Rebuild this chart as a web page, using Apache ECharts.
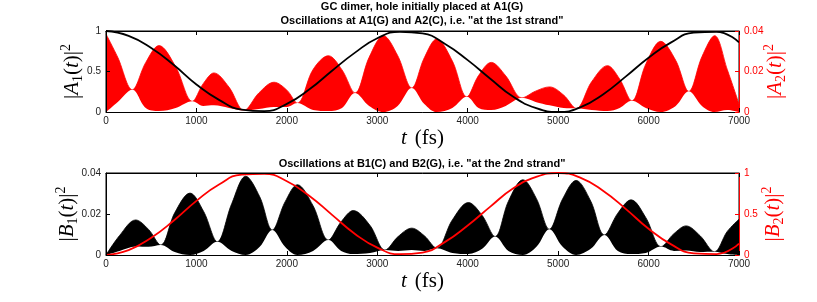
<!DOCTYPE html>
<html>
<head>
<meta charset="utf-8">
<script src="https://cdn.jsdelivr.net/npm/echarts@6/dist/echarts.min.js"></script>
<style>html,body{margin:0;padding:0;background:#fff}#c{width:817px;height:302px}</style>
</head>
<body>
<div id="c"></div>
<script>
// ---------- data ----------
const xTicks = [0, 1000, 2000, 3000, 4000, 5000, 6000, 7000];

// slow curves (sampled every 250 fs)
const tSlow = [0,250,500,750,1000,1250,1500,1750,2000,2250,2500,2750,3000,3250,3500,3750,4000,4250,4500,4750,5000,5250,5500,5750,6000,6250,6500,6750,7000];
const a1Slow = [1.00,0.94,0.79,0.58,0.34,0.15,0.03,0.01,0.10,0.28,0.51,0.73,0.91,0.99,0.97,0.84,0.64,0.41,0.19,0.05,0.00,0.06,0.22,0.44,0.67,0.86,0.98,0.99,0.86];
const b2Slow = [0.00,0.06,0.21,0.42,0.66,0.86,0.98,0.99,0.90,0.72,0.49,0.26,0.09,0.01,0.03,0.16,0.36,0.59,0.81,0.95,1.00,0.94,0.78,0.56,0.32,0.13,0.02,0.01,0.14];

// fast oscillation of |A2|^2 : upper and lower envelopes
const tTop = [0,130,291,440,586,770,955,1075,1194,1360,1526,1690,1858,2000,2116,2290,2459,2610,2754,2910,3067,3225,3381,3520,3657,3830,3990,4120,4260,4420,4600,4750,4905,5060,5200,5370,5545,5680,5815,5970,6135,6300,6445,6590,6730,6870,7000];
const a2Upper = [0.0385,0.027,0.011,0.0245,0.0328,0.0224,0.0053,0.014,0.0193,0.0123,0.0008,0.0094,0.0147,0.0108,0.0044,0.021,0.0278,0.0208,0.0094,0.027,0.0377,0.0279,0.0119,0.0268,0.036,0.0252,0.0075,0.018,0.0245,0.0179,0.007,0.0103,0.0124,0.0084,0.0018,0.0149,0.0229,0.0163,0.0055,0.0237,0.0349,0.0255,0.0102,0.0273,0.0377,0.021,0.004];
const a2Lower = [0,0.005,0.011,0.002,0.0005,0.002,0.0053,0.003,0.0033,0.002,0.0008,0.0015,0.0025,0.0025,0.0044,0.001,0.0005,0.002,0.0094,0.003,0,0.003,0.0119,0.004,0,0.002,0.0075,0.002,0.001,0.003,0.007,0.005,0.0033,0.002,0.0018,0.001,0.0005,0.002,0.0055,0.002,0,0.003,0.0102,0.003,0,0.001,0];

// fast oscillation of |B1|^2 : upper and lower envelopes
const tBot = [0,150,328,470,605,760,929,1080,1231,1390,1545,1700,1839,1980,2116,2290,2459,2600,2735,2920,3086,3230,3381,3520,3657,3830,4007,4160,4302,4450,4610,4760,4903,5050,5198,5360,5511,5660,5807,5970,6138,6280,6415,6570,6728,6870,7000];
const b1Upper = [0,0.0095,0.0171,0.0125,0.0049,0.0206,0.0302,0.0212,0.0065,0.025,0.0384,0.0284,0.0122,0.0259,0.0343,0.024,0.0073,0.0162,0.0217,0.0144,0.0024,0.009,0.0131,0.0094,0.0033,0.0171,0.0256,0.0193,0.009,0.0262,0.0367,0.0275,0.0126,0.0274,0.0364,0.0263,0.0098,0.0204,0.0269,0.0182,0.0041,0.0104,0.0142,0.0094,0.0016,0.0115,0.0175];
const b1Lower = [0,0.002,0.0042,0.004,0.0049,0.0015,0,0.002,0.0065,0.002,0,0.004,0.0122,0.004,0,0.002,0.0073,0.002,0.0005,0.001,0.0024,0.002,0.0025,0.002,0.0033,0.001,0.0005,0.003,0.009,0.002,0,0.004,0.0126,0.004,0,0.003,0.0098,0.002,0.0005,0.001,0.0041,0.002,0.0022,0.0015,0.0016,0.0005,0];

// ---------- helpers ----------
const zip = (t, v) => t.map((x, i) => [x, v[i]]);
const RED = '#ff0000';
const SANS = 'Liberation Sans, Arial, Helvetica, sans-serif';
const SERIF = 'Liberation Serif, DejaVu Serif, serif';
const plain = v => String(v);

function mathRich(color) {
  return {
    n: { fontFamily: SERIF, fontSize: 21, lineHeight: 26, color: color },
    i: { fontFamily: SERIF, fontSize: 21, fontStyle: 'italic', lineHeight: 26, color: color },
    g: { fontFamily: SERIF, fontSize: 21, lineHeight: 26, width: 8, color: color },
    s: { fontFamily: SERIF, fontSize: 14, lineHeight: 14, verticalAlign: 'bottom', color: color },
    p: { fontFamily: SERIF, fontSize: 14, lineHeight: 14, verticalAlign: 'top', color: color }
  };
}

function xAxisPair(gi) {
  const common = {
    gridIndex: gi, type: 'value', min: 0, max: 7000, interval: 1000, z: 6,
    axisLine: { show: true, onZero: false, lineStyle: { color: '#000', width: 1 } },
    axisTick: { show: true, inside: true, length: 4, lineStyle: { color: '#000' } },
    splitLine: { show: false }
  };
  return [
    Object.assign({}, common, {
      position: 'bottom',
      axisLabel: { show: true, fontFamily: SANS, fontSize: 10, color: '#222', margin: 4, formatter: plain },
      name: '{i|t}{g| }{n|(fs)}', nameLocation: 'middle', nameGap: 13, nameMoveOverlap: false,
      nameTextStyle: { rich: mathRich('#000') }
    }),
    Object.assign({}, common, { position: 'top', axisLabel: { show: false } })
  ];
}

function yAxisPair(gi, leftMax, leftInt, rightMax, rightInt, leftName, rightName, leftGap, rightGap) {
  return [
    {
      gridIndex: gi, type: 'value', position: 'left', min: 0, max: leftMax, interval: leftInt, z: 6,
      axisLine: { show: true, onZero: false, lineStyle: { color: '#000', width: 1 } },
      axisTick: { show: true, inside: true, length: 4, lineStyle: { color: '#000' } },
      axisLabel: { fontFamily: SANS, fontSize: 10, color: '#222', margin: 5, formatter: plain },
      splitLine: { show: false },
      name: leftName, nameLocation: 'middle', nameRotate: 90, nameGap: leftGap, nameMoveOverlap: false,
      nameTextStyle: { rich: mathRich('#000') }
    },
    {
      gridIndex: gi, type: 'value', position: 'right', min: 0, max: rightMax, interval: rightInt, z: 6,
      axisLine: { show: true, onZero: false, lineStyle: { color: RED, width: 1 } },
      axisTick: { show: true, inside: true, length: 4, lineStyle: { color: RED } },
      axisLabel: { fontFamily: SANS, fontSize: 10, color: RED, margin: 5, formatter: plain },
      splitLine: { show: false },
      name: rightName, nameLocation: 'middle', nameRotate: 90, nameGap: rightGap, nameMoveOverlap: false,
      nameTextStyle: { rich: mathRich(RED) }
    }
  ];
}

const chart = echarts.init(document.getElementById('c'), null, { renderer: 'canvas' });

const option = {
  animation: false,
  backgroundColor: '#fff',
  grid: [
    { left: 106, top: 31, width: 633, height: 81, show: true, borderColor: '#000', borderWidth: 1, backgroundColor: 'transparent' },
    { left: 106, top: 173, width: 633, height: 82, show: true, borderColor: '#000', borderWidth: 1, backgroundColor: 'transparent' }
  ],
  xAxis: [].concat(xAxisPair(0), xAxisPair(1)),
  yAxis: [].concat(
    yAxisPair(0, 1, 0.5, 0.04, 0.02, '{n||}{i|A}{s|1}{n|(}{i|t}{n|)|}{p|2}', '{n||}{i|A}{s|2}{n|(}{i|t}{n|)|}{p|2}', 21, 23),
    yAxisPair(1, 0.04, 0.02, 1, 0.5, '{n||}{i|B}{s|1}{n|(}{i|t}{n|)|}{p|2}', '{n||}{i|B}{s|2}{n|(}{i|t}{n|)|}{p|2}', 26, 21)
  ),
  graphic: [
    { type: 'text', x: 422, y: 7, style: { text: 'GC dimer, hole initially placed at A1(G)', fontFamily: SANS, fontWeight: 'bold', fontSize: 11, fill: '#000', align: 'center', verticalAlign: 'middle' } },
    { type: 'text', x: 422, y: 21, style: { text: 'Oscillations at A1(G) and A2(C), i.e. "at the 1st strand"', fontFamily: SANS, fontWeight: 'bold', fontSize: 11, fill: '#000', align: 'center', verticalAlign: 'middle' } },
    { type: 'text', x: 422, y: 164, style: { text: 'Oscillations at B1(C) and B2(G), i.e. "at the 2nd strand"', fontFamily: SANS, fontWeight: 'bold', fontSize: 11, fill: '#000', align: 'center', verticalAlign: 'middle' } }
  ],
  series: [
    // top: |A2|^2 band (right axis)
    { type: 'line', xAxisIndex: 0, yAxisIndex: 1, data: zip(tTop, a2Upper), showSymbol: false, smooth: 0.35, z: 2,
      lineStyle: { color: RED, width: 0.8 }, areaStyle: { color: RED, opacity: 1 } },
    { type: 'line', xAxisIndex: 0, yAxisIndex: 1, data: zip(tTop, a2Lower), showSymbol: false, smooth: 0.35, z: 3,
      lineStyle: { width: 0 }, areaStyle: { color: '#fff', opacity: 1 } },
    // top: |A1|^2 (left axis)
    { type: 'line', xAxisIndex: 0, yAxisIndex: 0, data: zip(tSlow, a1Slow), showSymbol: false, smooth: true, z: 4,
      lineStyle: { color: '#000', width: 1.8 } },
    // bottom: |B1|^2 band (left axis)
    { type: 'line', xAxisIndex: 2, yAxisIndex: 2, data: zip(tBot, b1Upper), showSymbol: false, smooth: 0.35, z: 2,
      lineStyle: { color: '#000', width: 0.8 }, areaStyle: { color: '#000', opacity: 1 } },
    { type: 'line', xAxisIndex: 2, yAxisIndex: 2, data: zip(tBot, b1Lower), showSymbol: false, smooth: 0.35, z: 3,
      lineStyle: { width: 0 }, areaStyle: { color: '#fff', opacity: 1 } },
    // bottom: |B2|^2 (right axis)
    { type: 'line', xAxisIndex: 2, yAxisIndex: 3, data: zip(tSlow, b2Slow), showSymbol: false, smooth: true, z: 4,
      lineStyle: { color: RED, width: 1.8 } }
  ]
};
chart.setOption(option);
</script>
</body>
</html>
